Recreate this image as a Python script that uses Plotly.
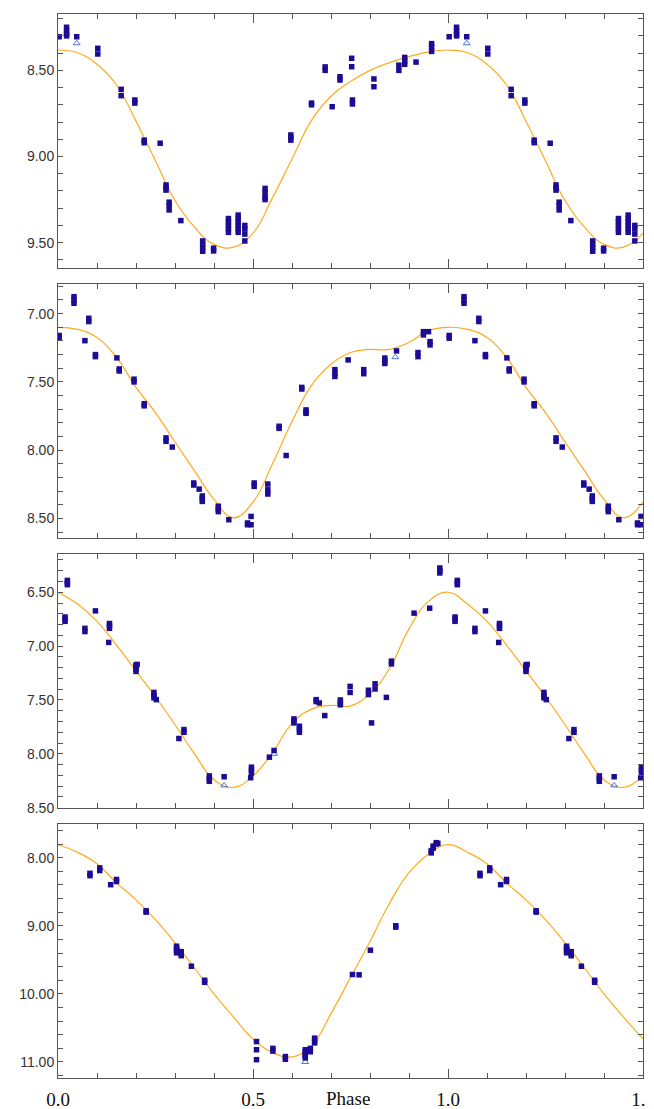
import plotly.graph_objects as go
from plotly.subplots import make_subplots

# ---------------- fitted light curves ----------------
curve_phase = [0.00, 0.05, 0.10, 0.15, 0.20, 0.25, 0.30, 0.35, 0.40, 0.45, 0.50,
               0.55, 0.60, 0.65, 0.70, 0.75, 0.80, 0.85, 0.90, 0.95, 1.00]
curve1 = [8.382, 8.398, 8.465, 8.585, 8.795, 9.025, 9.255, 9.41, 9.51, 9.526, 9.445,
          9.24, 9.015, 8.79, 8.65, 8.565, 8.50, 8.455, 8.42, 8.393, 8.382]
curve2 = [7.100, 7.115, 7.175, 7.32, 7.54, 7.725, 7.94, 8.15, 8.36, 8.495, 8.38,
          8.10, 7.79, 7.525, 7.37, 7.285, 7.262, 7.262, 7.21, 7.125, 7.100]
curve3 = [6.50, 6.61, 6.77, 6.99, 7.23, 7.47, 7.73, 8.00, 8.24, 8.312, 8.205,
          7.99, 7.72, 7.585, 7.55, 7.555, 7.44, 7.21, 6.84, 6.585, 6.50]
curve4 = [7.81, 7.92, 8.09, 8.37, 8.62, 8.91, 9.25, 9.62, 10.00, 10.34, 10.66,
          10.86, 10.925, 10.76, 10.29, 9.76, 9.23, 8.67, 8.22, 7.95, 7.81]

# ---------------- observations: panel 1 ----------------
p1_phase = [0.003,
            0.022, 0.022, 0.022, 0.022,
            0.048,
            0.102, 0.102,
            0.162, 0.162,
            0.197, 0.197,
            0.221, 0.221,
            0.262,
            0.277, 0.277, 0.277,
            0.285, 0.285, 0.285,
            0.315,
            0.371, 0.371, 0.371, 0.371,
            0.399, 0.399,
            0.437, 0.437, 0.437, 0.437, 0.437,
            0.462, 0.462, 0.462, 0.462, 0.462, 0.462,
            0.479, 0.479, 0.479, 0.479,
            0.531, 0.531, 0.531, 0.531,
            0.597, 0.597, 0.597,
            0.650, 0.650,
            0.685, 0.685,
            0.703,
            0.723, 0.723,
            0.753, 0.753,
            0.755, 0.755,
            0.810, 0.810,
            0.874, 0.874,
            0.889, 0.889, 0.889,
            0.918,
            0.958, 0.958, 0.958]
p1_mag = [8.305,
          8.25, 8.27, 8.29, 8.30,
          8.305,
          8.372, 8.405,
          8.61, 8.647,
          8.672, 8.69,
          8.905, 8.92,
          8.923,
          9.165, 9.18, 9.195,
          9.265, 9.285, 9.31,
          9.372,
          9.49, 9.51, 9.53, 9.55,
          9.532, 9.548,
          9.36, 9.38, 9.40, 9.42, 9.44,
          9.34, 9.36, 9.38, 9.40, 9.42, 9.44,
          9.40, 9.42, 9.45, 9.49,
          9.185, 9.21, 9.235, 9.25,
          8.875, 8.89, 8.905,
          8.69, 8.70,
          8.48, 8.50,
          8.711,
          8.537, 8.556,
          8.43, 8.479,
          8.672, 8.695,
          8.55, 8.595,
          8.47, 8.50,
          8.425, 8.445, 8.465,
          8.452,
          8.345, 8.365, 8.39]
p1_tri_phase = [0.048]
p1_tri_mag = [8.343]

# ---------------- observations: panel 2 ----------------
p2_phase = [0.003, 0.003,
            0.041, 0.041, 0.041,
            0.069,
            0.079, 0.079,
            0.096, 0.096,
            0.151,
            0.157, 0.157,
            0.195, 0.195,
            0.221, 0.221,
            0.277, 0.277,
            0.293,
            0.348, 0.348,
            0.362,
            0.370, 0.370, 0.370,
            0.411, 0.411, 0.411,
            0.438,
            0.486, 0.486,
            0.495, 0.495,
            0.503, 0.503,
            0.538, 0.538, 0.538,
            0.567, 0.567,
            0.585,
            0.625, 0.625,
            0.636, 0.636, 0.636,
            0.710, 0.710, 0.710,
            0.744,
            0.784, 0.784,
            0.838, 0.838, 0.838,
            0.868,
            0.923, 0.923,
            0.937, 0.937,
            0.950,
            0.954, 0.954]
p2_mag = [7.16, 7.18,
          6.876, 6.90, 6.924,
          7.198,
          7.034, 7.058,
          7.30, 7.315,
          7.324,
          7.405, 7.42,
          7.48, 7.50,
          7.66, 7.675,
          7.91, 7.935,
          7.977,
          8.24, 8.255,
          8.285,
          8.335, 8.355, 8.375,
          8.41, 8.43, 8.45,
          8.509,
          8.533, 8.546,
          8.485, 8.546,
          8.24, 8.265,
          8.248, 8.29, 8.321,
          7.825, 7.84,
          8.039,
          7.54, 7.552,
          7.705, 7.72, 7.73,
          7.41, 7.435, 7.46,
          7.339,
          7.41, 7.44,
          7.325, 7.345, 7.365,
          7.273,
          7.285, 7.315,
          7.132, 7.156,
          7.132,
          7.205, 7.229]
p2_tri_phase = [0.865]
p2_tri_mag = [7.319]

# ---------------- observations: panel 3 ----------------
p3_phase = [0.018, 0.018, 0.018,
            0.024, 0.024, 0.024,
            0.069, 0.069,
            0.096,
            0.130,
            0.132, 0.132, 0.132,
            0.200, 0.200, 0.200, 0.200,
            0.203,
            0.246, 0.246, 0.246,
            0.252,
            0.310,
            0.323, 0.323,
            0.388, 0.388, 0.388,
            0.426,
            0.494,
            0.496, 0.496, 0.496,
            0.542,
            0.554,
            0.605, 0.605, 0.605,
            0.619, 0.619, 0.619,
            0.662, 0.662,
            0.670,
            0.684,
            0.724, 0.724, 0.724,
            0.749, 0.749,
            0.796, 0.796,
            0.804,
            0.813, 0.813,
            0.842,
            0.855, 0.855,
            0.913,
            0.953,
            0.979, 0.979, 0.979]
p3_mag = [6.73, 6.75, 6.77,
          6.39, 6.41, 6.43,
          6.835, 6.865,
          6.673,
          6.966,
          6.79, 6.81, 6.835,
          7.175, 7.195, 7.215, 7.235,
          7.17,
          7.43, 7.46, 7.48,
          7.497,
          7.858,
          7.775, 7.80,
          8.205, 8.23, 8.255,
          8.213,
          8.222,
          8.124, 8.15, 8.176,
          8.031,
          7.969,
          7.676, 7.695, 7.713,
          7.744, 7.77, 7.80,
          7.497, 7.515,
          7.528,
          7.645,
          7.50, 7.525, 7.545,
          7.374, 7.43,
          7.41, 7.45,
          7.713,
          7.35, 7.398,
          7.476,
          7.14, 7.165,
          6.694,
          6.648,
          6.275, 6.30, 6.321]
p3_tri_phase = [0.426, 0.554]
p3_tri_mag = [8.293, 8.00]

# ---------------- observations: panel 4 ----------------
p4_phase = [0.082, 0.082,
            0.107, 0.107,
            0.135,
            0.150, 0.150,
            0.226, 0.226,
            0.304, 0.304, 0.304, 0.304,
            0.316, 0.316, 0.316,
            0.342,
            0.376, 0.376,
            0.509, 0.509, 0.509,
            0.551, 0.551,
            0.583, 0.583,
            0.634, 0.634, 0.634, 0.634, 0.634,
            0.647, 0.647,
            0.658, 0.658, 0.658,
            0.755,
            0.772,
            0.801,
            0.866, 0.866,
            0.957, 0.957,
            0.962, 0.962,
            0.970, 0.970,
            0.974]
p4_mag = [8.23, 8.265,
          8.15, 8.19,
          8.397,
          8.32, 8.35,
          8.78, 8.80,
          9.30, 9.33, 9.36, 9.397,
          9.38, 9.41, 9.44,
          9.594,
          9.80, 9.83,
          10.70, 10.82, 10.966,
          10.80, 10.84,
          10.92, 10.96,
          10.82, 10.85, 10.88, 10.91, 10.94,
          10.80, 10.85,
          10.65, 10.685, 10.72,
          9.716,
          9.72,
          9.359,
          9.00, 9.02,
          7.93, 7.90,
          7.86, 7.83,
          7.80, 7.78,
          7.79]
p4_tri_phase = [0.634]
p4_tri_mag = [11.00]

# ---------------- axes settings ----------------
y_ranges = [[9.647, 8.173], [8.643, 6.783], [8.503, 6.145], [11.235, 7.506]]
y_tick0 = [8.5, 7.0, 6.5, 8.0]
y_dtick = [0.5, 0.5, 0.5, 1.0]
y_minor = [0.1, 0.1, 0.1, 0.2]
x_tick_labels = ["0.0", "0.5", "1.0", "1.5"]
x_tick_vals = [0.0, 0.5, 1.0, 1.5]

PT_COLOR = "#1c0c93"
TRI_COLOR = "#4a78d8"
CURVE_COLOR = "#FFAA1C"
AX_COLOR = "#555555"


def unfold(ph, mg):
    """Phase-fold display: repeat points with phase < 0.5 at phase + 1."""
    xs = list(ph) + [p + 1.0 for p in ph if p < 0.5]
    ys = list(mg) + [m for p, m in zip(ph, mg) if p < 0.5]
    return xs, ys


def unfold_curve(ph, mg):
    xs = list(ph) + [p + 1.0 for p in ph if 0 < p <= 0.5]
    ys = list(mg) + [m for p, m in zip(ph, mg) if 0 < p <= 0.5]
    return xs, ys


fig = make_subplots(rows=4, cols=1, vertical_spacing=16 / 1064)

curves = [curve1, curve2, curve3, curve4]
points = [(p1_phase, p1_mag), (p2_phase, p2_mag), (p3_phase, p3_mag), (p4_phase, p4_mag)]
tris = [(p1_tri_phase, p1_tri_mag), (p2_tri_phase, p2_tri_mag),
        (p3_tri_phase, p3_tri_mag), (p4_tri_phase, p4_tri_mag)]

for i in range(4):
    r = i + 1
    cx, cy = unfold_curve(curve_phase, curves[i])
    fig.add_trace(go.Scatter(x=cx, y=cy, mode="lines",
                             line=dict(color=CURVE_COLOR, width=1.2, shape="spline", smoothing=1.25),
                             hoverinfo="skip", showlegend=False), row=r, col=1)
    tx, ty = unfold(*tris[i])
    fig.add_trace(go.Scatter(x=tx, y=ty, mode="markers",
                             marker=dict(symbol="triangle-up-open", size=6, color=TRI_COLOR,
                                         line=dict(width=1, color=TRI_COLOR)),
                             showlegend=False), row=r, col=1)
    px, py = unfold(*points[i])
    fig.add_trace(go.Scatter(x=px, y=py, mode="markers",
                             marker=dict(symbol="square", size=5.5, color=PT_COLOR,
                                         line=dict(width=0)),
                             showlegend=False), row=r, col=1)

    fig.update_xaxes(row=r, col=1, range=[0, 1.5], tickmode="array",
                     tickvals=x_tick_vals, ticktext=x_tick_labels,
                     ticks="inside", ticklen=9, tickwidth=1, tickcolor=AX_COLOR,
                     minor=dict(dtick=0.1, tick0=0, ticks="inside", ticklen=5,
                                tickwidth=1, tickcolor=AX_COLOR, showgrid=False),
                     showline=True, linecolor=AX_COLOR, linewidth=1, mirror="ticks",
                     showgrid=False, zeroline=False, automargin=False,
                     showticklabels=(r == 4), ticklabeloverflow="allow",
                     ticklabelstandoff=4,
                     tickfont=dict(family="Liberation Serif", size=19, color="#111111"))
    fig.update_yaxes(row=r, col=1, range=y_ranges[i], tick0=y_tick0[i], dtick=y_dtick[i],
                     tickformat=".2f",
                     ticks="inside", ticklen=5, tickwidth=1, tickcolor=AX_COLOR,
                     minor=dict(dtick=y_minor[i], ticks="inside", ticklen=5,
                                tickwidth=1, tickcolor=AX_COLOR, showgrid=False),
                     showline=True, linecolor=AX_COLOR, linewidth=1, mirror="ticks",
                     showgrid=False, zeroline=False, automargin=False,
                     tickfont=dict(family="Liberation Sans", size=14, color="#333333"))

fig.add_annotation(text="Phase", xref="x4", yref="paper", x=0.744, y=-0.0195,
                   xanchor="center", yanchor="middle", showarrow=False,
                   font=dict(family="Liberation Serif", size=19, color="#111111"))

# the page body adds an 8px offset; plot area placed to match the reference
fig.update_layout(width=654, height=1101,
                  margin=dict(l=50, r=19, t=6, b=31, autoexpand=False),
                  paper_bgcolor="white", plot_bgcolor="white",
                  showlegend=False)

fig.write_html("out.html")
